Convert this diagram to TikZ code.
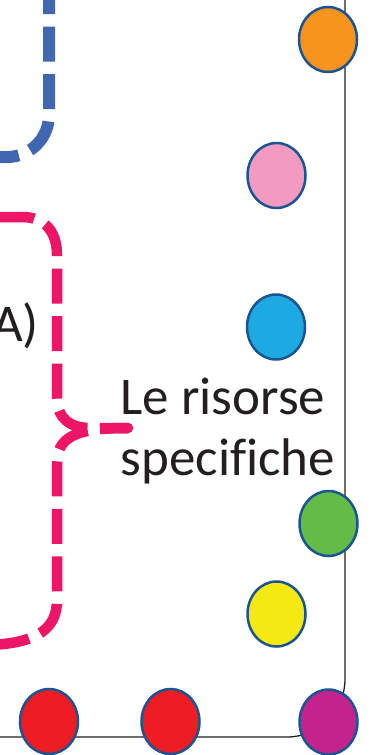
\documentclass[tikz,border=0pt]{standalone}
\usepackage{fontspec}
\setmainfont{Carlito}[Ligatures=NoCommon]
\usetikzlibrary{shapes.geometric}

\definecolor{frameblue}{RGB}{65,103,178}
\definecolor{bracepink}{RGB}{237,21,102}
\definecolor{dotrim}{RGB}{26,84,146}
\definecolor{cOrange}{RGB}{247,148,30}
\definecolor{cPink}{RGB}{243,154,193}
\definecolor{cCyan}{RGB}{29,169,225}
\definecolor{cGreen}{RGB}{99,187,72}
\definecolor{cYellow}{RGB}{244,234,18}
\definecolor{cMagenta}{RGB}{196,35,142}
\definecolor{cRed}{RGB}{237,29,36}
\definecolor{inkgray}{RGB}{35,31,32}

\tikzset{
  dot/.style={ellipse, draw=dotrim, line width=2.5pt, inner sep=0pt,
              minimum width=58pt, minimum height=65pt},
  dashline/.style={line width=#1, dash pattern=on 35pt off 12.5pt},
  framebox/.style={draw=inkgray, line width=1.3pt},
  label/.style={font=\fontsize{53}{61}\selectfont, text=inkgray, inner sep=0pt}
}

\begin{document}
\begin{tikzpicture}[x=1pt, y=-1pt]
\useasboundingbox (0,0) rectangle (371,755);
\clip (0,0) rectangle (371,755);

% outer frame with rounded lower-right corner
\coordinate (frameTop) at (345,-30);
\coordinate (frameCorner) at (345,737);
\coordinate (frameLeft) at (-30,737);
\draw[framebox, rounded corners=58pt] (frameTop) -- (frameCorner) -- (frameLeft);

% blue dashed frame corner
\coordinate (blueTop) at (49,-21);
\coordinate (blueCorner) at (49,157);
\coordinate (blueLeft) at (-40,157);
\draw[dashline=12pt, draw=frameblue, rounded corners=42pt] (blueTop) -- (blueCorner) -- (blueLeft);

% pink dashed curly brace, tip pointing right
\coordinate (tip) at (128,428);
\draw[dashline=10.5pt, draw=bracepink, dash phase=7pt]
  (tip) -- (90,428) .. controls (70,428) and (57,418) .. (57,398)
  -- (57,255) .. controls (57,232) and (45,217) .. (22,217) -- (-40,217);
\draw[dashline=10.5pt, draw=bracepink, dash phase=7pt]
  (tip) .. controls (88,428) and (57,432) .. (57,462)
  -- (57,600) .. controls (57,628) and (38,643) .. (-10,645) -- (-40,646);
\fill[bracepink] (tip) circle (5.25pt);

% labels
\node[label, anchor=base east] (partA) at (39,341) {A)};
\node[label, anchor=base west] (resA) at (120.5,414) {Le risorse};
\node[label, anchor=base west] (resB) at (120.5,475) {specifiche};

% coloured dots
\node[dot, fill=cOrange]  (dOrange)  at (328,39.5) {};
\node[dot, fill=cPink]    (dPink)    at (276.5,175.5) {};
\node[dot, fill=cCyan]    (dCyan)    at (276,327) {};
\node[dot, fill=cGreen]   (dGreen)   at (328.5,523.5) {};
\node[dot, fill=cYellow]  (dYellow)  at (276.5,614) {};
\node[dot, fill=cMagenta] (dMagenta) at (328.5,722) {};
\node[dot, fill=cRed]     (dRedA)    at (49,721.5) {};
\node[dot, fill=cRed]     (dRedB)    at (170.5,721.5) {};
\end{tikzpicture}
\end{document}
